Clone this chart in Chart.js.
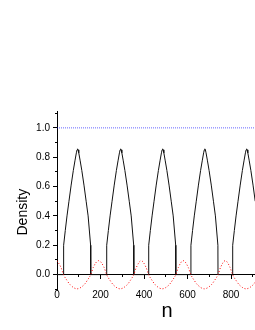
<!DOCTYPE html>
<html>
<head>
<meta charset="utf-8">
<script src="https://cdn.jsdelivr.net/npm/chart.js@4.4.1/dist/chart.umd.min.js"></script>
<style>
  html, body { margin: 0; padding: 0; background: #fff; overflow: hidden; }
</style>
</head>
<body>
<canvas id="myChart" width="255" height="330"></canvas>
<script>
  // values
  const blackN = [0,
    30, 30.5, 38, 46, 55, 65, 75, 83, 89, 92, 94.5, 97, 100, 106, 114, 124, 134, 143, 154.5, 155,
    228, 228.5, 236, 244, 253, 263, 273, 281, 287, 290, 292.5, 295, 298, 304, 312, 322, 332, 341, 352.5, 353,
    421, 421.5, 429, 437, 446, 456, 466, 474, 480, 483, 485.5, 488, 491, 497, 505, 515, 525, 534, 545.5, 546,
    615, 615.5, 623, 631, 640, 650, 660, 668, 674, 677, 679.5, 682, 685, 691, 699, 709, 719, 728, 739.5, 740,
    807, 807.5, 815, 823, 832, 842, 852, 860, 866, 869, 871.5, 874, 877, 883, 891, 901, 911, 920, 931.5, 932,
    1000];
  const blackDensity = [0,
    0, 0.2, 0.3, 0.4, 0.5, 0.61, 0.71, 0.78, 0.83, 0.85, 0.857, 0.85, 0.83, 0.78, 0.71, 0.61, 0.5, 0.4, 0.2, 0,
    0, 0.2, 0.3, 0.4, 0.5, 0.61, 0.71, 0.78, 0.83, 0.85, 0.857, 0.85, 0.83, 0.78, 0.71, 0.61, 0.5, 0.4, 0.2, 0,
    0, 0.2, 0.3, 0.4, 0.5, 0.61, 0.71, 0.78, 0.83, 0.85, 0.857, 0.85, 0.83, 0.78, 0.71, 0.61, 0.5, 0.4, 0.2, 0,
    0, 0.2, 0.3, 0.4, 0.5, 0.61, 0.71, 0.78, 0.83, 0.85, 0.857, 0.85, 0.83, 0.78, 0.71, 0.61, 0.5, 0.4, 0.2, 0,
    0, 0.2, 0.3, 0.4, 0.5, 0.61, 0.71, 0.78, 0.83, 0.85, 0.857, 0.85, 0.83, 0.78, 0.71, 0.61, 0.5, 0.4, 0.2, 0,
    0];

  const redN = [0, 18, 30, 46, 61, 92, 124, 139, 155, 167,
    191, 216, 228, 244, 259, 290, 322, 337, 353, 365,
    387, 409, 421, 437, 452, 483, 515, 530, 546, 558,
    580, 603, 615, 631, 646, 677, 709, 724, 740, 752,
    773, 795, 807, 823, 838, 869, 901, 916, 932, 944,
    966, 990, 1000];
  const redDensity = [0.095, 0.05, 0, -0.04, -0.07, -0.097, -0.07, -0.04, 0, 0.05,
    0.095, 0.05, 0, -0.04, -0.07, -0.097, -0.07, -0.04, 0, 0.05,
    0.095, 0.05, 0, -0.04, -0.07, -0.097, -0.07, -0.04, 0, 0.05,
    0.095, 0.05, 0, -0.04, -0.07, -0.097, -0.07, -0.04, 0, 0.05,
    0.095, 0.05, 0, -0.04, -0.07, -0.097, -0.07, -0.04, 0, 0.05,
    0.095, 0.05, 0.03];

  const blueN = [0, 1000];
  const blueDensity = [1, 1];

  const xMajor = [0, 200, 400, 600, 800];
  const xMinor = [100, 300, 500, 700, 900];
  const yMajor = [0, 0.2, 0.4, 0.6, 0.8, 1.0];
  const yMinor = [-0.1, 0.1, 0.3, 0.5, 0.7, 0.9, 1.1];

  const pts = (xs, ys) => xs.map((x, i) => ({ x: x, y: ys[i] }));
  const setTicks = (vals) => (scale) => { scale.ticks = vals.map(v => ({ value: v })); };

  Chart.defaults.font.family = '"Liberation Sans", Arial, sans-serif';
  Chart.defaults.color = '#000';

  const data = {
    datasets: [{
      data: pts(blueN, blueDensity),
      borderColor: 'rgba(0, 0, 255, 0.6)',
      borderWidth: 1,
      borderDash: [1, 1]
    }, {
      data: pts(redN, redDensity),
      borderColor: 'rgb(255, 0, 0)',
      borderWidth: 1,
      borderDash: [1, 2],
      cubicInterpolationMode: 'monotone'
    }, {
      data: pts(blackN, blackDensity),
      borderColor: '#111',
      borderWidth: 1,
      tension: 0
    }]
  };

  const config = {
    type: 'scatter',
    data: data,
    options: {
      responsive: false,
      animation: false,
      showLine: true,
      elements: { point: { radius: 0 } },
      layout: { padding: { top: 111, bottom: 40, left: 0, right: 0 } },
      plugins: { legend: { display: false }, tooltip: { enabled: false } },
      scales: {
        x: {
          type: 'linear',
          min: 0,
          max: 910,
          position: { y: 0 },
          afterBuildTicks: setTicks(xMajor),
          afterFit: (scale) => { scale.height = 49; },
          border: { display: true, color: '#000', width: 1 },
          grid: { drawOnChartArea: false, tickLength: 4, tickColor: '#000' },
          ticks: { padding: 11, font: { size: 10 }, maxRotation: 0, callback: (v) => String(v) },
          title: { display: true, text: '    n', font: { size: 20 }, padding: 0 }
        },
        xMinor: {
          type: 'linear',
          axis: 'x',
          min: 0,
          max: 910,
          position: { y: 0 },
          afterBuildTicks: setTicks(xMinor),
          border: { display: false },
          grid: { drawOnChartArea: false, tickLength: 2, tickColor: '#000' },
          ticks: { display: false }
        },
        y: {
          min: -0.105,
          max: 1.115,
          position: 'left',
          afterBuildTicks: setTicks(yMajor),
          afterFit: (scale) => { scale.width = 57; },
          border: { display: true, color: '#000', width: 1 },
          grid: { drawOnChartArea: false, tickLength: 4, tickColor: '#000' },
          ticks: { padding: 3, font: { size: 10 }, callback: (v) => v.toFixed(1) },
          title: { display: true, text: 'Density      ', font: { size: 14 }, padding: { top: 14.5, bottom: 0 } }
        },
        yMinor: {
          type: 'linear',
          axis: 'y',
          min: -0.105,
          max: 1.115,
          position: { x: 0 },
          afterBuildTicks: setTicks(yMinor),
          border: { display: false },
          grid: { drawOnChartArea: false, tickLength: 2, tickColor: '#000' },
          ticks: { display: false }
        }
      }
    }
  };

  var myChart = new Chart(document.getElementById('myChart'), config);
</script>
</body>
</html>
